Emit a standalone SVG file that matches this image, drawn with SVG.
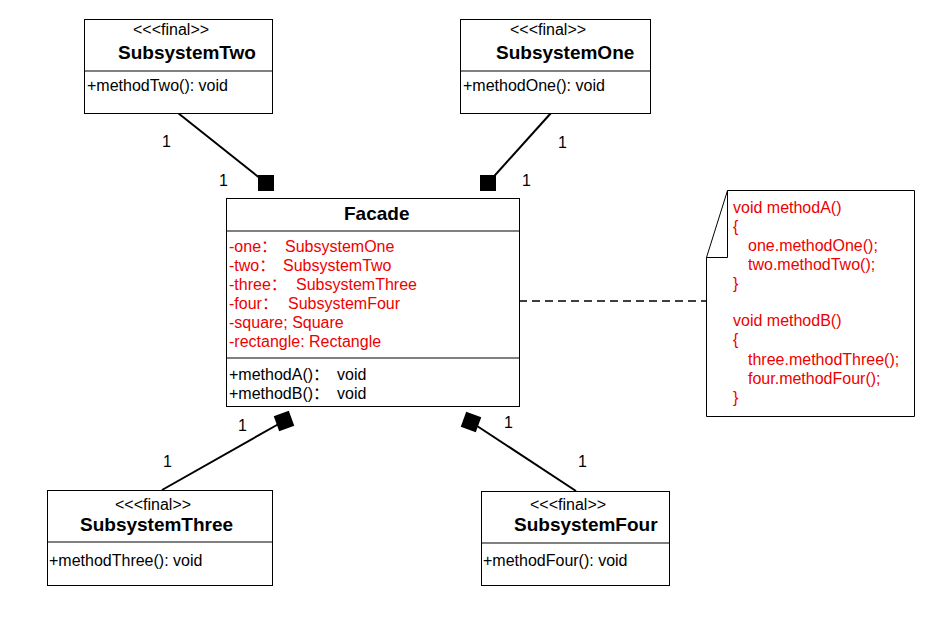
<svg xmlns="http://www.w3.org/2000/svg" width="945" height="634" viewBox="0 0 945 634">
<style>
text{font-family:"Liberation Sans",Arial,"Noto Sans CJK SC",sans-serif;font-size:16px;fill:#000}
.t{font-weight:bold;font-size:19px}
.r{fill:#ee0000}
.box{fill:#fff;stroke:#000;stroke-width:1}
.ln{stroke:#000;stroke-width:1}
.c{stroke:#000;stroke-width:2;fill:none}
.sq{fill:#000}
</style>
<rect width="945" height="634" fill="#fff"/>
<g id="connectors">
<line class="c" x1="178" y1="113" x2="266" y2="183"/>
<rect class="sq" x="258" y="175" width="16" height="16"/>
<line class="c" x1="551" y1="113" x2="488" y2="183"/>
<rect class="sq" x="480" y="175" width="16" height="16"/>
<line class="c" x1="162" y1="490" x2="284" y2="421"/>
<rect class="sq" x="276" y="413" width="16" height="16" transform="rotate(-20 284 421)"/>
<line class="c" x1="576" y1="491" x2="471" y2="422"/>
<rect class="sq" x="463" y="414" width="16" height="16" transform="rotate(20 471 422)"/>
<line x1="519" y1="301" x2="706" y2="301" stroke="#000" stroke-width="1.5" stroke-dasharray="8,5"/>
<text x="162" y="147">1</text>
<text x="219" y="186">1</text>
<text x="558" y="148">1</text>
<text x="522" y="186">1</text>
<text x="238" y="431">1</text>
<text x="163" y="467">1</text>
<text x="504" y="428">1</text>
<text x="578" y="467">1</text>
</g>
<g id="subsystemTwo">
<rect class="box" x="84.5" y="19.5" width="188" height="94"/>
<line class="ln" x1="84.5" y1="71" x2="272.5" y2="71"/>
<text x="133" y="35">&lt;&lt;&lt;final&gt;&gt;</text>
<text class="t" x="118" y="59">SubsystemTwo</text>
<text x="87" y="91">+methodTwo(): void</text>
</g>
<g id="subsystemOne">
<rect class="box" x="460.5" y="19.5" width="190" height="94"/>
<line class="ln" x1="460.5" y1="71" x2="650.5" y2="71"/>
<text x="510" y="35">&lt;&lt;&lt;final&gt;&gt;</text>
<text class="t" x="496" y="59">SubsystemOne</text>
<text x="463" y="91">+methodOne(): void</text>
</g>
<g id="facade">
<rect class="box" x="226.5" y="198.5" width="293" height="208"/>
<line class="ln" x1="226.5" y1="231" x2="519.5" y2="231"/>
<line class="ln" x1="226.5" y1="358" x2="519.5" y2="358"/>
<text class="t" x="344" y="220">Facade</text>
<text class="r" x="229" y="252">-one：</text><text class="r" x="285" y="252">SubsystemOne</text>
<text class="r" x="229" y="271">-two：</text><text class="r" x="283" y="271">SubsystemTwo</text>
<text class="r" x="229" y="290">-three：</text><text class="r" x="296" y="290">SubsystemThree</text>
<text class="r" x="229" y="309">-four：</text><text class="r" x="288" y="309">SubsystemFour</text>
<text class="r" x="229" y="328">-square; Square</text>
<text class="r" x="229" y="347">-rectangle: Rectangle</text>
<text x="229" y="380">+methodA()：</text><text x="337" y="380">void</text>
<text x="229" y="399">+methodB()：</text><text x="337" y="399">void</text>
</g>
<g id="note">
<path class="box" d="M727.5 190.5 H914.5 V416.5 H706.5 V257.5 Z"/>
<path d="M727.5 190.5 V257.5 H706.5" fill="none" stroke="#000" stroke-width="1"/>
<text class="r" x="733" y="213">void methodA()</text>
<text class="r" x="733" y="232">{</text>
<text class="r" x="748" y="251">one.methodOne();</text>
<text class="r" x="748" y="270">two.methodTwo();</text>
<text class="r" x="733" y="289">}</text>
<text class="r" x="733" y="326">void methodB()</text>
<text class="r" x="733" y="345">{</text>
<text class="r" x="748" y="365">three.methodThree();</text>
<text class="r" x="748" y="384">four.methodFour();</text>
<text class="r" x="733" y="403">}</text>
</g>
<g id="subsystemThree">
<rect class="box" x="47.5" y="490.5" width="225" height="95"/>
<line class="ln" x1="47.5" y1="542" x2="272.5" y2="542"/>
<text x="115" y="510">&lt;&lt;&lt;final&gt;&gt;</text>
<text class="t" x="80" y="531">SubsystemThree</text>
<text x="49" y="566">+methodThree(): void</text>
</g>
<g id="subsystemFour">
<rect class="box" x="481.5" y="491.5" width="188" height="94"/>
<line class="ln" x1="481.5" y1="543" x2="669.5" y2="543"/>
<text x="530" y="510">&lt;&lt;&lt;final&gt;&gt;</text>
<text class="t" x="514" y="531">SubsystemFour</text>
<text x="483" y="566">+methodFour(): void</text>
</g>
</svg>
